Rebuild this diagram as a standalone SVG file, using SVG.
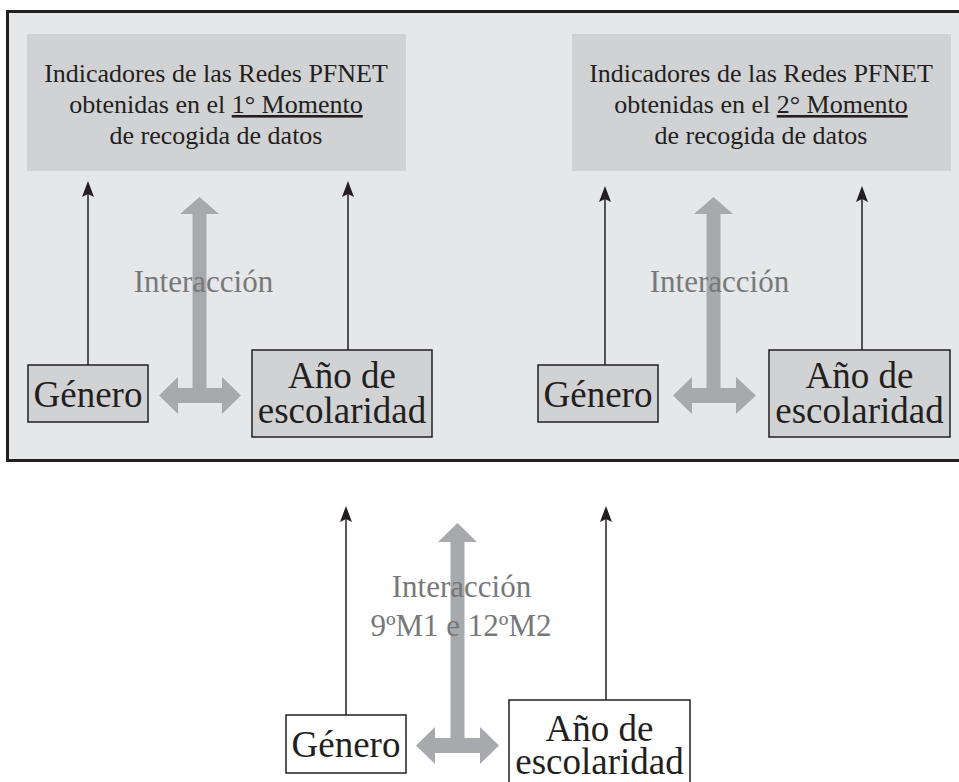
<svg xmlns="http://www.w3.org/2000/svg" width="959" height="782" viewBox="0 0 959 782">
<defs>
<style>
.frame{fill:#e6e7e8;stroke:#231f20;stroke-width:3}
.head{fill:#d1d2d4}
.node{fill:#d1d2d4;stroke:#231f20;stroke-width:1.5}
.nodew{fill:#ffffff;stroke:#231f20;stroke-width:1.5}
text{font-family:'Liberation Serif','DejaVu Serif',serif}
.t{fill:#231f20;text-anchor:middle}
.h{font-size:26px}
.n{font-size:37px}
.g{fill:#77787b;text-anchor:middle;font-size:31px}
.thin{stroke:#231f20;stroke-width:1.5;fill:none;marker-end:url(#ah)}
.thick{fill:#a7a9ac}
.u{text-decoration:underline}
</style>
<marker id="ah" viewBox="0 0 16 12" refX="8" refY="6" markerWidth="16" markerHeight="12" markerUnits="userSpaceOnUse" orient="auto">
<path d="M0,0 L16,6 L0,12 L3,6 z" fill="#231f20"/>
</marker>
</defs>
<rect class="frame" x="7.5" y="11.5" width="970" height="449"/>

<g id="indicadores1" font-family="Liberation Serif, DejaVu Serif, serif">
<rect class="head" x="27" y="34" width="379" height="137"/>
<text class="t h" x="216" y="82">Indicadores de las Redes PFNET</text>
<text class="t h" x="216" y="113">obtenidas en el <tspan class="u">1° Momento</tspan></text>
<text class="t h" x="216" y="144">de recogida de datos</text>
</g>
<g id="indicadores2">
<rect class="head" x="572" y="34" width="379" height="137"/>
<text class="t h" x="761" y="82">Indicadores de las Redes PFNET</text>
<text class="t h" x="761" y="113">obtenidas en el <tspan class="u">2° Momento</tspan></text>
<text class="t h" x="761" y="144">de recogida de datos</text>
</g>

<g id="connectors">
<line class="thin" x1="88" y1="365" x2="88" y2="189"/>
<line class="thin" x1="348" y1="350" x2="348" y2="189"/>
<line class="thin" x1="605" y1="365" x2="605" y2="194"/>
<line class="thin" x1="862" y1="350" x2="862" y2="194"/>
<line class="thin" x1="346" y1="715" x2="346" y2="514"/>
<line class="thin" x1="606" y1="700" x2="606" y2="514"/>
<polygon class="thick" points="199.5,197 219,214 206.5,214 206.5,388 222,388 222,377 241,395.5 222,414 222,403 178,403 178,414 159,395.5 178,377 178,388 192.5,388 192.5,214 180,214"/>
<polygon class="thick" points="713.5,197 733,214 720.5,214 720.5,388 736,388 736,377 756,395.5 736,414 736,403 692,403 692,414 673,395.5 692,377 692,388 706.5,388 706.5,214 694,214"/>
<polygon class="thick" points="457.5,523 477,542 464.5,542 464.5,738 480,738 480,727 499,745.5 480,764 480,753 435,753 435,764 416,745.5 435,727 435,738 450.5,738 450.5,542 438,542"/>
</g>

<g id="interaccion1"><text class="g" x="203.5" y="292">Interacción</text></g>
<g id="interaccion2"><text class="g" x="719.5" y="292">Interacción</text></g>
<g id="interaccion3">
<text class="g" x="461.5" y="597">Interacción</text>
<text class="g" x="461" y="636">9ºM1 e 12ºM2</text>
</g>

<g id="genero1">
<rect class="node" x="28" y="365" width="120" height="57"/>
<text class="t n" x="88" y="407">Género</text>
</g>
<g id="anio1">
<rect class="node" x="252" y="350" width="180" height="87"/>
<text class="t n" x="342" y="388">Año de</text>
<text class="t n" x="342" y="423">escolaridad</text>
</g>
<g id="genero2">
<rect class="node" x="538" y="365" width="120" height="57"/>
<text class="t n" x="598" y="407">Género</text>
</g>
<g id="anio2">
<rect class="node" x="769" y="350" width="181" height="87"/>
<text class="t n" x="859.5" y="388">Año de</text>
<text class="t n" x="859.5" y="423">escolaridad</text>
</g>
<g id="genero3">
<rect class="nodew" x="286" y="715" width="120" height="58"/>
<text class="t n" x="346" y="757">Género</text>
</g>
<g id="anio3">
<rect class="nodew" x="509" y="700" width="181" height="90"/>
<text class="t n" x="599.5" y="741">Año de</text>
<text class="t n" x="599.5" y="774">escolaridad</text>
</g>
</svg>
